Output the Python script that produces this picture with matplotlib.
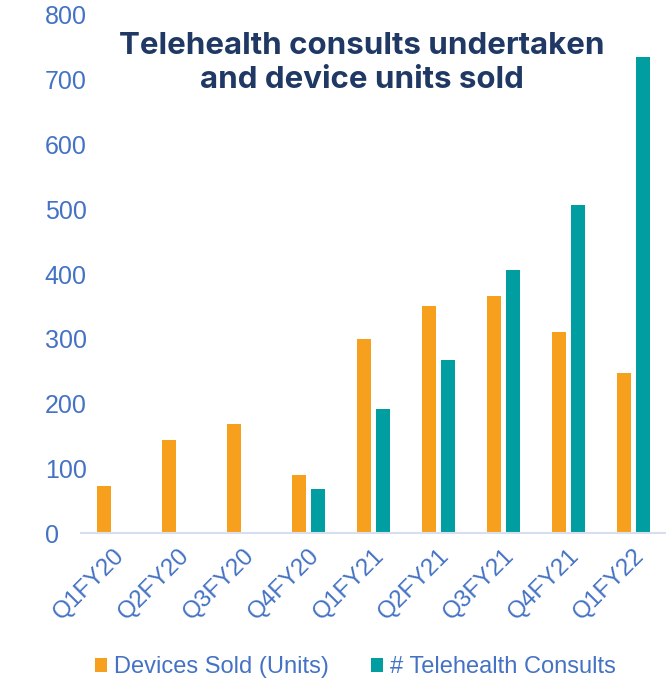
import numpy as np
import matplotlib.pyplot as plt

# quarters and the two series
quarters = ['Q1FY20', 'Q2FY20', 'Q3FY20', 'Q4FY20', 'Q1FY21',
            'Q2FY21', 'Q3FY21', 'Q4FY21', 'Q1FY22']
devices_sold = [73, 144, 168, 90, 300, 350, 366, 310, 247]
telehealth_consults = [np.nan, np.nan, np.nan, 69, 191, 268, 407, 507, 735]

orange = '#F7A01E'
teal = '#009EA0'
blue = '#4472C4'
navy = '#1F3864'

plt.rcParams['font.family'] = ['Liberation Sans', 'DejaVu Sans']

fig = plt.figure(figsize=(6.66, 6.81), dpi=100)
ax = fig.add_axes([0.1216, 0.217, 0.8784, 0.761])

x = np.arange(len(quarters))
w = 0.225
ax.bar(x - 0.145, devices_sold, w, color=orange, label='Devices Sold (Units)')
ax.bar(x + 0.145, telehealth_consults, w, color=teal, label='# Telehealth Consults')

ax.set_xlim(-0.5, len(quarters) - 0.5)
ax.set_ylim(0, 800)
ax.set_yticks(range(0, 801, 100))
# y labels sit left-aligned, like the original
ax.tick_params(axis='y', length=0, labelsize=18, labelcolor=blue, pad=26)
for lbl in ax.get_yticklabels():
    lbl.set_horizontalalignment('left')
ax.tick_params(axis='x', length=0, labelsize=17.5, labelcolor=blue, pad=8)
ax.set_xticks(x)
ax.set_xticklabels(quarters, rotation=45, ha='right', rotation_mode='anchor')

for s in ['top', 'right', 'left']:
    ax.spines[s].set_visible(False)
ax.spines['bottom'].set_color('#D6DEEF')
ax.spines['bottom'].set_linewidth(1.5)

fig.text(0.543, 0.907, 'Telehealth consults undertaken\nand device units sold',
         ha='center', va='center', fontsize=22.5, fontweight='bold',
         color=navy, family=['Inter', 'DejaVu Sans'], linespacing=1.28)

leg = fig.legend(loc='center', bbox_to_anchor=(0.534, 0.02), ncol=2,
                 frameon=False, fontsize=17, handlelength=0.5, handleheight=0.5,
                 handletextpad=0.3, columnspacing=1.8)
for t in leg.get_texts():
    t.set_color(blue)

fig.savefig('out.png', dpi=100)
